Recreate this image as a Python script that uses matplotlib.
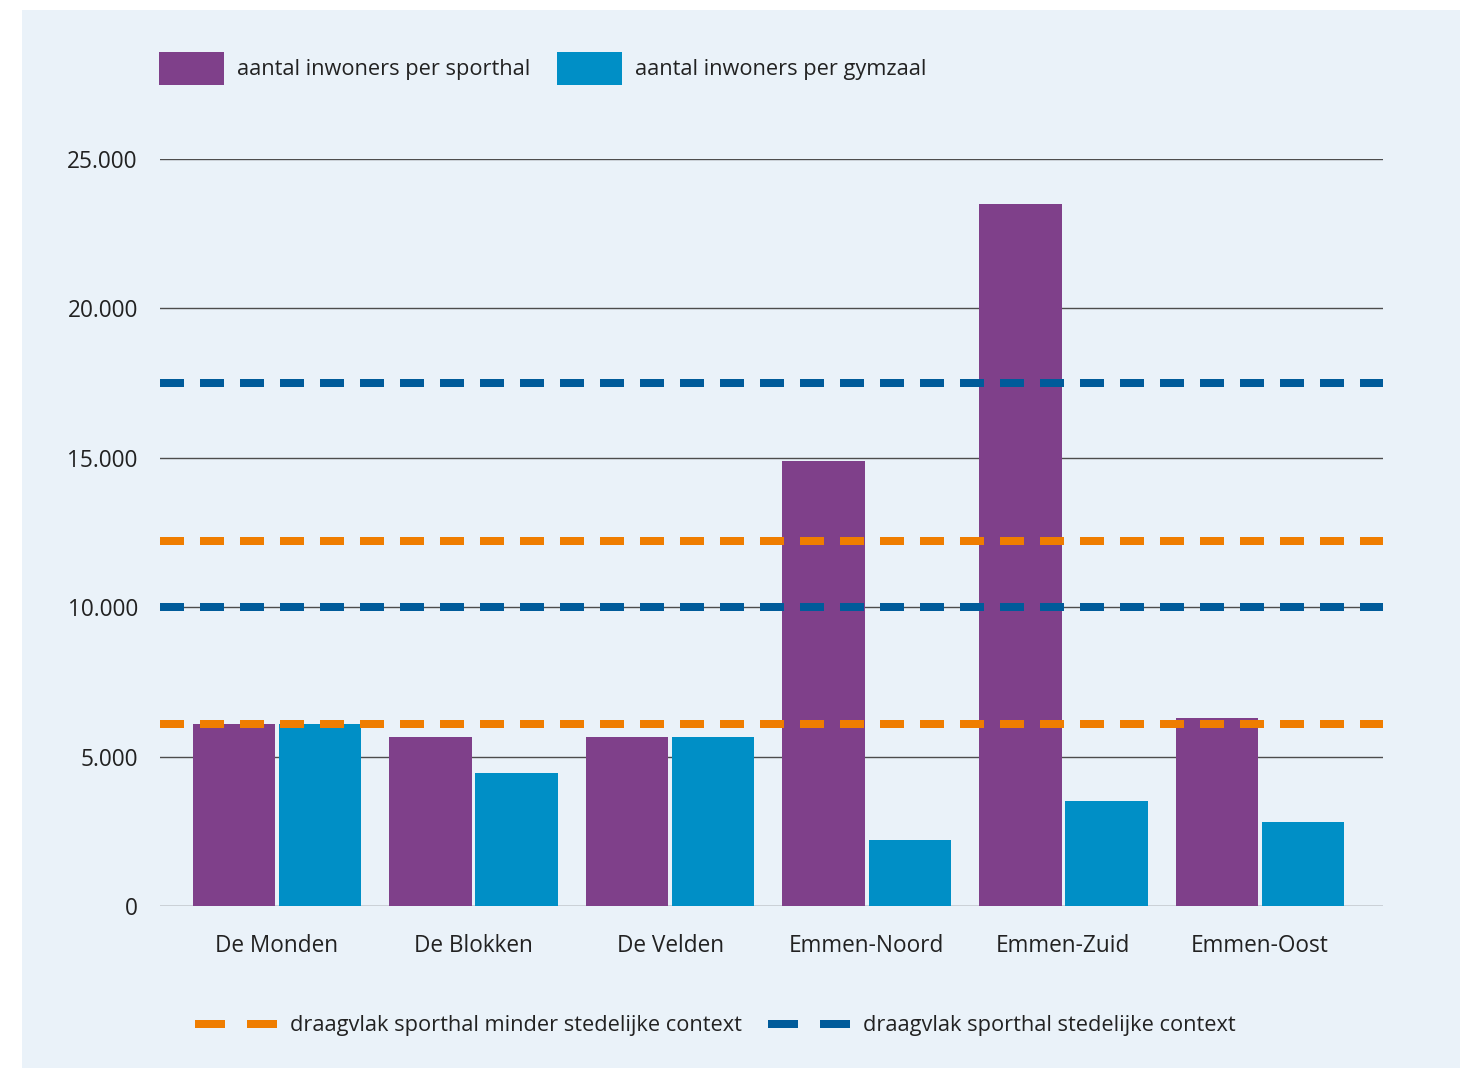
#!/usr/bin/env python3
"""Inwoners per sporthal / gymzaal per wijk, with draagvlak lines."""

import matplotlib
matplotlib.use("Agg")
import matplotlib.pyplot as plt
from matplotlib.patches import Rectangle, Patch
from matplotlib.lines import Line2D
from matplotlib.ticker import FuncFormatter
import numpy as np

# Data
wijken = ["De Monden", "De Blokken", "De Velden", "Emmen-Noord", "Emmen-Zuid", "Emmen-Oost"]
per_sporthal = [6100, 5650, 5650, 14900, 23500, 6300]
per_gymzaal = [6100, 4450, 5650, 2200, 3500, 2800]
draagvlak_minder_stedelijk = [6100, 12200]
draagvlak_stedelijk = [10000, 17500]
y_ticks = [0, 5000, 10000, 15000, 20000, 25000]

PURPLE = "#7F408A"
CYAN = "#008FC6"
ORANGE = "#EF7D00"
NAVY = "#005B9A"
PANEL = "#EAF2F9"
TEXT = "#222222"

plt.rcParams["font.family"] = ["Open Sans", "DejaVu Sans"]

fig = plt.figure(figsize=(14.65, 10.68), dpi=100, facecolor="white")
fig.patches.append(Rectangle((22 / 1465, 0), 1438 / 1465, 1058 / 1068,
                             transform=fig.transFigure, facecolor=PANEL,
                             edgecolor="none", zorder=-10))

ax = fig.add_axes([160 / 1465, 1 - 906 / 1068, 1223 / 1465, 747 / 1068])
ax.set_facecolor("none")

x = np.arange(len(wijken))
w = 0.42
off = 0.219
ax.bar(x - off, per_sporthal, width=w, color=PURPLE, zorder=2)
ax.bar(x + off, per_gymzaal, width=w, color=CYAN, zorder=2)

dash_lw = 8 * 72 / 100
for v in draagvlak_minder_stedelijk:
    ax.axhline(v, color=ORANGE, lw=dash_lw, dashes=(3, 2), zorder=3)
for v in draagvlak_stedelijk:
    ax.axhline(v, color=NAVY, lw=dash_lw, dashes=(3, 2), zorder=3)

ax.set_xlim(-0.595, 5.626)
ax.set_ylim(0, 25000)
ax.set_yticks(y_ticks)
ax.yaxis.set_major_formatter(FuncFormatter(lambda v, p: f"{int(v):,}".replace(",", ".")))
ax.set_xticks(x)
ax.set_xticklabels(wijken)
ax.tick_params(axis="both", length=0, labelsize=16.3, colors=TEXT)
ax.tick_params(axis="y", pad=16)
ax.tick_params(axis="x", pad=20)
ax.grid(axis="y", color="#4d4d4d", lw=1.0, zorder=0)
ax.set_axisbelow(True)
for s in ax.spines.values():
    s.set_visible(False)

# Top legend
top_handles = [Patch(facecolor=PURPLE, edgecolor="none"),
               Patch(facecolor=CYAN, edgecolor="none")]
fig.legend(top_handles, ["aantal inwoners per sporthal", "aantal inwoners per gymzaal"],
           loc="upper left", bbox_to_anchor=(139 / 1465, 1 - 32 / 1068),
           ncol=2, frameon=False, fontsize=15.7, handlelength=3.0,
           handleheight=2.0, handletextpad=0.6, columnspacing=1.2,
           labelcolor=TEXT)

# Bottom legend
bot_handles = [Line2D([], [], color=ORANGE, lw=dash_lw, dashes=(3.75, 2.75)),
               Line2D([], [], color=NAVY, lw=dash_lw, dashes=(3.75, 2.75))]
fig.legend(bot_handles, ["draagvlak sporthal minder stedelijke context",
                         "draagvlak sporthal stedelijke context"],
           loc="center left", bbox_to_anchor=(175 / 1465, 1 - 1026 / 1068),
           ncol=2, frameon=False, fontsize=15.7, handlelength=3.76,
           handletextpad=0.6, columnspacing=1.2, labelcolor=TEXT)

fig.savefig("out.png", dpi=100, facecolor="white")
